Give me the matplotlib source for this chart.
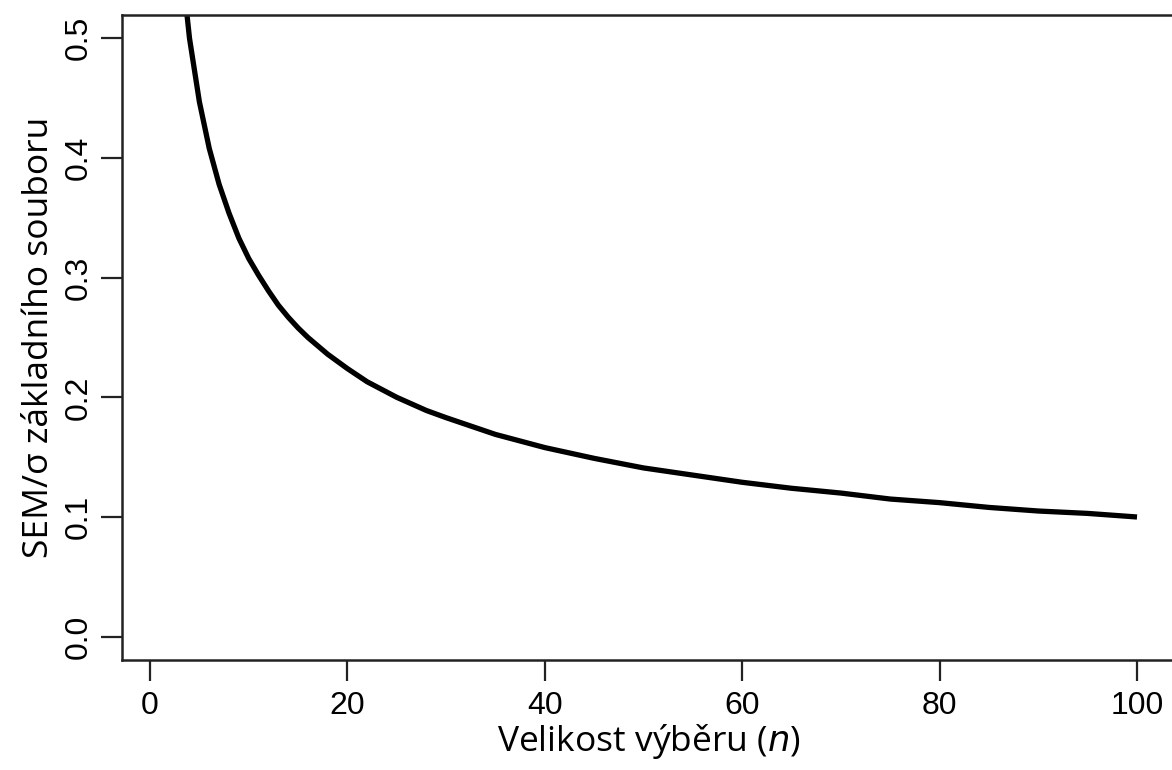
import matplotlib.pyplot as plt

# Sample size and SEM relative to the population standard deviation
sample_size = [3, 4, 5, 6, 7, 8, 9, 10, 11, 12, 13, 14, 15, 16, 18, 20, 22, 25,
               28, 30, 35, 40, 45, 50, 55, 60, 65, 70, 75, 80, 85, 90, 95, 100]
sem_ratio = [0.577, 0.500, 0.447, 0.408, 0.378, 0.354, 0.333, 0.316, 0.302,
             0.289, 0.277, 0.267, 0.258, 0.250, 0.236, 0.224, 0.213, 0.200,
             0.189, 0.183, 0.169, 0.158, 0.149, 0.141, 0.135, 0.129, 0.124,
             0.120, 0.115, 0.112, 0.108, 0.105, 0.103, 0.100]

x_ticks = [0, 20, 40, 60, 80, 100]
y_ticks = [0.0, 0.1, 0.2, 0.3, 0.4, 0.5]

tick_font = "Liberation Sans"
label_font = "Open Sans"

fig = plt.figure(figsize=(11.72, 7.70), dpi=100)
# box runs past the right edge of the figure
ax = fig.add_axes([122 / 1172, 110 / 770, 1054 / 1172, 645 / 770])

ax.plot(sample_size, sem_ratio, color="black", linewidth=3.8,
        solid_capstyle="butt", solid_joinstyle="round")

ax.set_xlim(-2.84, 103.95)
ax.set_ylim(-0.0195, 0.5195)

ax.set_xticks(x_ticks)
ax.set_xticklabels([str(v) for v in x_ticks], fontfamily=tick_font, fontsize=23)
ax.set_yticks(y_ticks)
ax.set_yticklabels([f"{v:.1f}" for v in y_ticks], fontfamily=tick_font,
                   fontsize=23, rotation=90, va="center")

ax.tick_params(axis="both", direction="out", length=15, width=1.6,
               color="#222222")
ax.tick_params(axis="x", pad=7)
ax.tick_params(axis="y", pad=5)
for side in ["left", "bottom", "top", "right"]:
    ax.spines[side].set_linewidth(1.8)
    ax.spines[side].set_color("#222222")

ax.set_xlabel("Velikost výběru ($\\it{n}$)", fontfamily=label_font,
              fontsize=25.5, labelpad=1)
ax.set_ylabel("SEM/σ základního souboru", fontfamily=label_font,
              fontsize=25.5, labelpad=6)

fig.savefig("out.png", dpi=100)
